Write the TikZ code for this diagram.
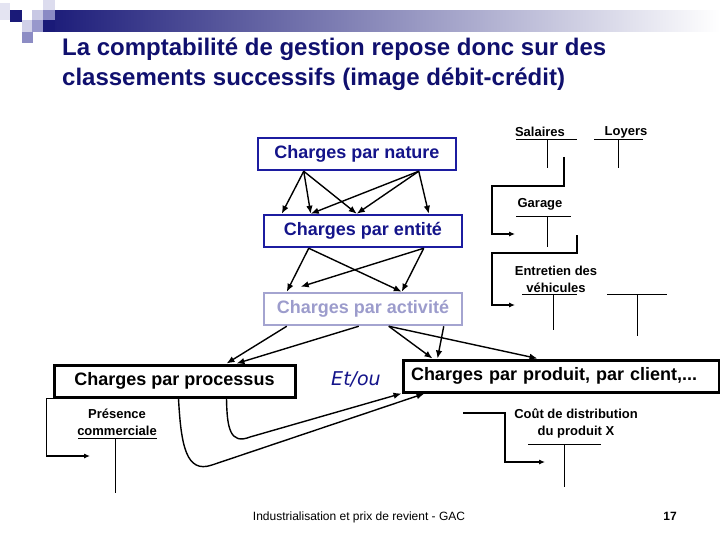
\documentclass[tikz,border=0pt]{standalone}
\usepackage{fontspec}
\setmainfont{Liberation Sans}
\newfontfamily\etfont{DejaVu Sans}
\usetikzlibrary{arrows.meta,calc}
\definecolor{titlenavy}{HTML}{10106E}
\definecolor{boxblue}{HTML}{1C1CA0}
\definecolor{boxtext}{HTML}{14148A}
\definecolor{lavline}{HTML}{A4A4D0}
\definecolor{lavtext}{HTML}{9C9CCC}
\definecolor{barnavy}{HTML}{1A1A78}
\definecolor{sqa}{HTML}{E4E4F2}
\definecolor{sqb}{HTML}{D0D0E8}
\definecolor{sqc}{HTML}{C8C8E4}
\definecolor{sqd}{HTML}{9898CC}
\definecolor{sqe}{HTML}{DCDCEE}
\definecolor{sqf}{HTML}{8A8AC4}
\definecolor{sqg}{HTML}{8C8CC4}
\tikzset{
  bigbox/.style={minimum height=32pt, inner sep=0pt, font=\bfseries\fontsize{18}{20}\selectfont},
  bluebox/.style={bigbox, draw=boxblue, line width=2.5pt, text=boxtext, minimum width=198pt},
  lavbox/.style={bigbox, draw=lavline, line width=2.5pt, text=lavtext, minimum width=198pt},
  blackbox/.style={bigbox, draw=black, line width=3pt, text=black},
  arr/.style={line width=1.4pt, -{Latex[length=8pt,width=6.5pt]}},
  tarr/.style={line width=1.1pt, -{Latex[length=6pt,width=5pt]}},
  tline/.style={line width=0.8pt},
  small/.style={font=\bfseries\fontsize{13}{17}\selectfont, inner sep=0pt, align=center},
}
\begin{document}
\begin{tikzpicture}[x=1pt,y=-1pt]
\useasboundingbox (0,0) rectangle (720,540);
\fill[white] (0,0) rectangle (720,540);
% decoration
\shade[left color=barnavy, right color=white] (43,11) rectangle (720,32);
\fill[barnavy] (43,20) rectangle (55,32);
\fill[sqa] (0,3) rectangle (10,20);
\fill[barnavy] (10,10) rectangle (22,22);
\fill[sqb] (22,20) rectangle (33,32);
\fill[sqc] (32,10) rectangle (43,20);
\fill[sqd] (32,20) rectangle (43,32);
\fill[sqe] (43,0) rectangle (55,10);
\fill[sqf] (43,10) rectangle (55,20);
\fill[sqg] (22,32) rectangle (33,43);
% title
\node[anchor=base west, inner sep=0pt, text=titlenavy, font=\bfseries\fontsize{24}{28}\selectfont] (t1) at (62,56) {La comptabilité de gestion repose donc sur des};
\node[anchor=base west, inner sep=0pt, text=titlenavy, font=\bfseries\fontsize{24}{28}\selectfont] (t2) at (62,86) {classements successifs (image débit-crédit)};
% main boxes
\node[bluebox] (nat) at (357,154) {Charges par nature};
\node[bluebox] (ent) at (363,231) {Charges par entité};
\node[lavbox] (act) at (363,309) {Charges par activité};
\node[blackbox, minimum width=241pt] (proc) at (174.5,381) {Charges par processus};
\node[blackbox, minimum width=316pt, text width=300pt, align=left, inner xsep=8pt] (prod) at (561,376) {Charges par produit, par client,...};
\node[text=boxtext, font=\etfont\itshape\fontsize{19}{22}\selectfont, inner sep=0pt] (et) at (356,379) {Et/ou};
% nature -> entite
\draw[arr] ([xshift=47pt]nat.south west) -- ([xshift=19pt]ent.north west);
\draw[arr] ([xshift=47pt]nat.south west) -- ([xshift=48pt]ent.north west);
\draw[arr] ([xshift=47pt]nat.south west) -- ([xshift=94pt]ent.north west);
\draw[arr] ([xshift=162pt]nat.south west) -- ([xshift=48pt]ent.north west);
\draw[arr] ([xshift=162pt]nat.south west) -- ([xshift=94pt]ent.north west);
\draw[arr] ([xshift=162pt]nat.south west) -- ([xshift=166pt]ent.north west);
% entite -> activite
\draw[arr] ([xshift=46pt]ent.south west) -- ([xshift=24pt]act.north west);
\draw[arr] ([xshift=46pt]ent.south west) -- ([xshift=139pt]act.north west);
\draw[arr] ([xshift=161pt]ent.south west) -- ([xshift=139pt]act.north west);
\draw[arr] ([xshift=161pt]ent.south west) -- ([xshift=38pt, yshift=5pt]act.north west);
% activite -> processus / produit
\draw[arr] ([xshift=24pt]act.south west) -- ([xshift=174pt]proc.north west);
\draw[arr] ([xshift=96pt]act.south west) -- ([xshift=184pt]proc.north west);
\draw[arr] ([xshift=126pt]act.south west) -- ([xshift=31pt]prod.north west);
\draw[arr] ([xshift=126pt]act.south west) -- ([xshift=136pt]prod.north west);
\draw[arr] ([xshift=181pt]act.south west) -- ([xshift=36pt]prod.north west);
% processus -> produit curves
\draw[arr] ([xshift=126pt]proc.south west) .. controls (181,445) and (186,474) .. (212,465) -- ([xshift=23pt]prod.south west);
\draw[arr] ([xshift=174pt]proc.south west) .. controls (227,428) and (230,445) .. (250,437) -- ([xshift=0pt]prod.south west);
% Presence commerciale
\node[small] (pres) at (117,422) {Présence\\commerciale};
\coordinate (presin) at (90,456);
\draw[tarr] (proc.south west) -- ++(-6,0) |- (presin);
\draw[tline] (78,438) -- (157,438);
\draw[tline] (115,438) -- (115,493);
% T accounts right
\node[small] (sal) at (540,132) {Salaires};
\node[small] (loy) at (626,132) {Loyers};
\draw[tline] (516,139) -- (577,139);
\draw[tline] (547,139) -- (547,168);
\draw[tline] (594,139) -- (643,139);
\draw[tline] (618,139) -- (618,168);
\coordinate (salout) at (564,157);
\coordinate (garin) at (515,234);
\draw[tarr] (salout) -- (564,186) -- (492,186) |- (garin);
\node[small] (gar) at (540,204) {Garage};
\draw[tline] (516,216) -- (571,216);
\draw[tline] (547,216) -- (547,247);
\coordinate (garout) at (577,235);
\coordinate (entin) at (515,305);
\draw[tarr] (garout) -- (577,253) -- (492,253) |- (entin);
\node[small] (entr) at (556,279) {Entretien des\\véhicules};
\draw[tline] (522,294) -- (577,294);
\draw[tline] (553,294) -- (553,330);
\draw[tline] (607,294) -- (667,294);
\draw[tline] (637,294) -- (637,336);
% Cout de distribution
\node[small] (cout) at (576,423) {Coût de distribution\\du produit X};
\coordinate (coutstart) at (463,413);
\coordinate (coutin) at (545,462);
\draw[tarr] (coutstart) -- (505,413) |- (coutin);
\draw[tline] (528,444) -- (601,444);
\draw[tline] (564,444) -- (564,487);
% footer
\node[font=\fontsize{12}{14}\selectfont, inner sep=0pt] (foot) at (359,517) {Industrialisation et prix de revient - GAC};
\node[font=\bfseries\fontsize{12}{14}\selectfont, inner sep=0pt] (num) at (670,516) {17};
\end{tikzpicture}
\end{document}
